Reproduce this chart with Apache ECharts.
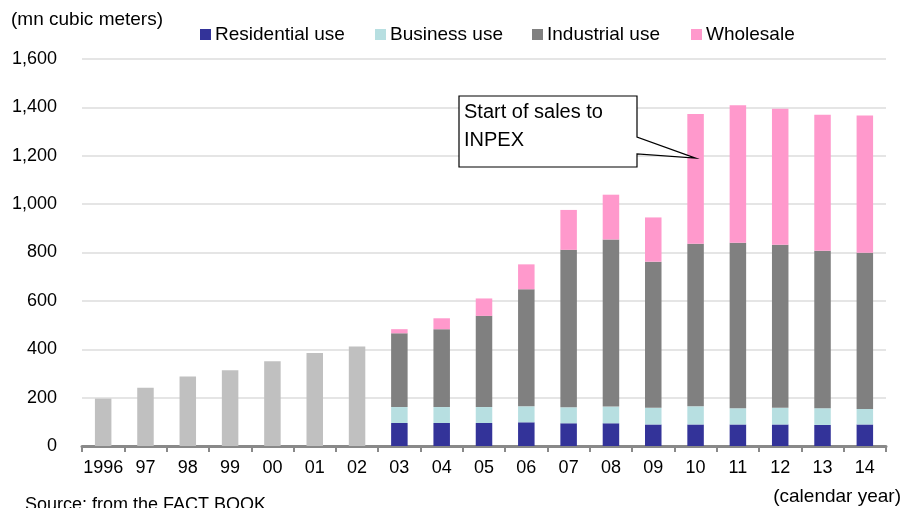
<!DOCTYPE html>
<html>
<head>
<meta charset="utf-8">
<script src="https://cdn.jsdelivr.net/npm/echarts@6/dist/echarts.min.js"></script>
<style>
  html, body { margin: 0; padding: 0; background: #fff; }
  #chart { width: 915px; height: 508px; }
</style>
</head>
<body>
<div id="chart"></div>
<script>
// Gas sales volume by use (mn cubic meters), calendar years 1996-2014
const years = ['1996', '97', '98', '99', '00', '01', '02', '03', '04', '05', '06', '07', '08', '09', '10', '11', '12', '13', '14'];

// Totals only for 1996-2002 (no breakdown available)
const totalNoBreakdown = [196, 241, 287, 313, 350, 385, 411, '-', '-', '-', '-', '-', '-', '-', '-', '-', '-', '-', '-'];
const residential = ['-', '-', '-', '-', '-', '-', '-', 95, 95, 95, 98, 94, 94, 89, 89, 89, 89, 87, 89];
const business    = ['-', '-', '-', '-', '-', '-', '-', 66, 66, 66, 66, 66, 69, 69, 75, 67, 69, 69, 64];
const industrial  = ['-', '-', '-', '-', '-', '-', '-', 305, 322, 377, 484, 651, 691, 604, 672, 684, 674, 651, 646];
const wholesale   = ['-', '-', '-', '-', '-', '-', '-', 17, 45, 72, 103, 165, 185, 183, 537, 569, 562, 562, 567];

const seriesNames = ['Residential use', 'Business use', 'Industrial use', 'Wholesale'];
const yTicks = [0, 200, 400, 600, 800, 1000, 1200, 1400, 1600];

// Callout annotation
const calloutLines = ['Start of sales to', 'INPEX'];
const calloutYear = '10';
const calloutValue = 1190;

const FONT = '"Liberation Sans", Arial, sans-serif';
const colors = {
  total: '#c0c0c0',
  residential: '#333399',
  business: '#b7dfe1',
  industrial: '#808080',
  wholesale: '#ff99cc'
};

const chart = echarts.init(document.getElementById('chart'), null, { renderer: 'canvas' });

function barSeries(name, data, color) {
  return {
    name: name,
    type: 'bar',
    stack: 'volume',
    data: data,
    barWidth: '39%',
    itemStyle: { color: color },
    emphasis: { disabled: true },
    animation: false
  };
}

// One legend entry per component so each sits at its own spot on the top row
const legendLefts = [200, 375, 532, 691];
const legends = seriesNames.map((name, i) => ({
  data: [name],
  left: legendLefts[i],
  top: 25,
  padding: 0,
  itemWidth: 11,
  itemHeight: 11,
  icon: 'rect',
  textStyle: { fontFamily: FONT, fontSize: 19, color: '#000', padding: [0, 0, 0, -1] },
  selectedMode: false
}));

const option = {
  animation: false,
  textStyle: { fontFamily: FONT, color: '#000' },
  grid: { left: 82, right: 29, top: 59, bottom: 62, containLabel: false },
  legend: legends,
  xAxis: {
    type: 'category',
    data: years,
    axisLine: { lineStyle: { color: '#898989', width: 3 } },
    axisTick: { show: true, length: 6, lineStyle: { color: '#898989', width: 2 } },
    axisLabel: { fontFamily: FONT, fontSize: 18, color: '#000', margin: 13, interval: 0 }
  },
  yAxis: {
    type: 'value',
    min: yTicks[0],
    max: yTicks[yTicks.length - 1],
    interval: yTicks[1] - yTicks[0],
    axisLine: { show: false },
    axisTick: { show: false },
    splitLine: { lineStyle: { color: '#dcdcdc', width: 1.5 } },
    axisLabel: {
      fontFamily: FONT, fontSize: 18, color: '#000', margin: 25,
      formatter: v => v.toLocaleString('en-US')
    }
  },
  series: [
    barSeries('Total', totalNoBreakdown, colors.total),
    barSeries(seriesNames[0], residential, colors.residential),
    barSeries(seriesNames[1], business, colors.business),
    barSeries(seriesNames[2], industrial, colors.industrial),
    barSeries(seriesNames[3], wholesale, colors.wholesale)
  ]
};

chart.setOption(option);

// Texts around the plot and the callout pointing at the first wholesale jump
const tip = chart.convertToPixel({ gridIndex: 0 }, [calloutYear, calloutValue]);
const box = { x1: 459, y1: 96, x2: 637, y2: 167 };
const notchTop = 137, notchBottom = 154;

chart.setOption({
  graphic: [
    {
      type: 'text', left: 11, top: 10,
      style: { text: '(mn cubic meters)', font: '19px ' + FONT, fill: '#000' }
    },
    {
      type: 'text', left: 25, top: 496,
      style: { text: 'Source: from the FACT BOOK', font: '18px ' + FONT, fill: '#000' }
    },
    {
      type: 'text', right: 14, top: 487,
      style: { text: '(calendar year)', font: '19px ' + FONT, fill: '#000' }
    },
    {
      type: 'polygon',
      shape: {
        points: [
          [box.x1, box.y1], [box.x2, box.y1], [box.x2, notchTop],
          [tip[0], tip[1]],
          [box.x2, notchBottom], [box.x2, box.y2], [box.x1, box.y2]
        ]
      },
      style: { fill: '#fff', stroke: '#000', lineWidth: 1.2 },
      z: 100
    },
    {
      type: 'text', left: box.x1 + 5, top: box.y1 + 2,
      style: {
        text: calloutLines.join('\n'), font: '20px ' + FONT, fill: '#000', lineHeight: 28
      },
      z: 101
    }
  ]
});
</script>
</body>
</html>
